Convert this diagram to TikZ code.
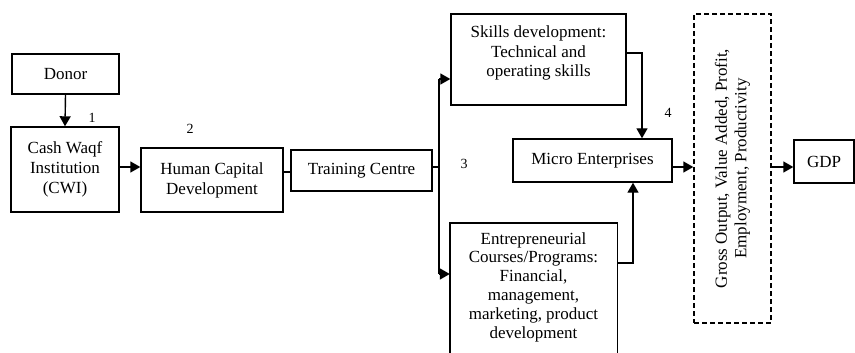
\documentclass[tikz,border=0pt]{standalone}
\usepackage{fontspec}
\setmainfont{Liberation Serif}
\usetikzlibrary{arrows.meta}
\begin{document}
\begin{tikzpicture}[x=1pt,y=-1pt,
  box/.style={draw, line width=1.4pt, inner sep=0pt, align=center, font=\fontsize{17}{20}\selectfont},
  txt/.style={inner sep=0pt, align=center, font=\fontsize{17}{19.5}\selectfont},
  arr/.style={line width=1.4pt, -{Triangle[length=10pt,width=11pt]}},
  ln/.style={line width=1.4pt},
  num/.style={inner sep=0pt, font=\fontsize{14}{16}\selectfont}]
\useasboundingbox (0,0) rectangle (855,353);
% boxes
\node[box, minimum width=107pt, minimum height=40pt] (donor) at (65.5,74) {Donor};
\node[box, minimum width=108pt, minimum height=85pt] (cwi) at (65,169.5) {Cash Waqf\\Institution\\(CWI)};
\node[box, minimum width=142pt, minimum height=64pt] (hcd) at (212,180) {Human Capital\\Development};
\node[box, minimum width=141pt, minimum height=41pt] (tc) at (361.5,170.5) {Training Centre};
\node[box, minimum width=175pt, minimum height=91pt] (skills) at (538.5,59.5) {};
\node[txt] (skillst) at (538.5,53) {Skills development:\\Technical and\\operating skills};
\node[inner sep=0pt, minimum width=167pt, minimum height=132pt, anchor=north] (ent) at (533.5,223) {};
\draw[ln] (ent.south west) -- (ent.north west) -- (ent.north east) -- (ent.south east);
\node[txt, font=\fontsize{17}{18.8}\selectfont] (entt) at (533.5,287) {Entrepreneurial\\Courses/Programs:\\Financial,\\management,\\marketing, product\\development};
\node[box, minimum width=159pt, minimum height=43pt] (micro) at (592.5,160.5) {Micro Enterprises};
\node[box, dashed, dash pattern=on 5pt off 3pt, minimum width=77pt, minimum height=309pt] (out) at (732.5,168.5) {};
\node[txt, rotate=90] (outt) at (732.5,168.5) {Gross Output, Value Added, Profit,\\Employment, Productivity};
\node[box, minimum width=60pt, minimum height=43pt] (gdp) at (824,161.5) {GDP};
% numbers
\node[num] (n1) at (92,118) {1};
\node[num] (n2) at (190,129) {2};
\node[num] (n3) at (464,164) {3};
\node[num] (n4) at (668,113) {4};
% connectors
\coordinate (bt) at (439,79);
\coordinate (bb) at (439,274);
\draw[arr] (donor.south) -- (cwi.north);
\draw[arr] (cwi.east |- 0,167) -- (hcd.west |- 0,167);
\draw[ln] (hcd.east |- 0,172) -- (tc.west |- 0,172);
\draw[ln] (tc.east |- 0,167) -- (bt |- 0,167);
\draw[ln] (bt) -- (bb);
\draw[arr] (bt) -- (skills.west |- bt);
\draw[arr] (bb) -- (ent.west |- bb);
\draw[arr] (skills.east |- 0,53) -| (micro.north -| 642,0);
\draw[arr] (ent.east |- 0,263) -| (micro.south -| 633,0);
\draw[arr] (micro.east |- 0,167) -- (out.west |- 0,167);
\draw[arr] (out.east |- 0,167) -- (gdp.west |- 0,167);
\end{tikzpicture}
\end{document}
